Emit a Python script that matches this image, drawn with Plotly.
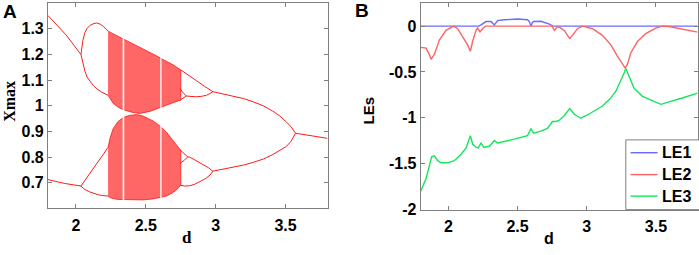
import plotly.graph_objects as go

# ---------------- Panel A: bifurcation diagram ----------------
p1_up_d = [1.80, 1.85, 1.886, 1.93, 1.969, 2.0, 2.036]
p1_up_x = [1.352, 1.322, 1.304, 1.276, 1.248, 1.226, 1.200]
p1_lo_d = [1.80, 1.86, 1.921, 1.98, 2.036]
p1_lo_x = [0.712, 0.704, 0.697, 0.692, 0.687]

p2u_top_d = [2.036, 2.042, 2.050, 2.064, 2.080, 2.100, 2.125, 2.148, 2.175, 2.195, 2.215, 2.23]
p2u_top_x = [1.200, 1.228, 1.255, 1.285, 1.302, 1.313, 1.320, 1.323, 1.318, 1.310, 1.300, 1.291]
p2u_bot_d = [2.036, 2.047, 2.064, 2.080, 2.100, 2.124, 2.150, 2.183, 2.23]
p2u_bot_x = [1.200, 1.170, 1.136, 1.112, 1.096, 1.079, 1.066, 1.054, 1.041]

p2l_top_d = [2.036, 2.06, 2.10, 2.14, 2.171, 2.20, 2.23]
p2l_top_x = [0.687, 0.705, 0.735, 0.765, 0.791, 0.814, 0.838]
p2l_bot_d = [2.036, 2.06, 2.10, 2.13, 2.16, 2.19, 2.23]
p2l_bot_x = [0.687, 0.675, 0.664, 0.658, 0.653, 0.650, 0.648]

cu_d   = [2.23, 2.266, 2.30, 2.338, 2.40, 2.457, 2.529, 2.576, 2.624, 2.695, 2.75]
cu_top = [1.291, 1.281, 1.271, 1.260, 1.243, 1.229, 1.210, 1.195, 1.180, 1.160, 1.140]
cu_bot = [1.041, 1.010, 0.995, 0.985, 0.975, 0.970, 0.978, 0.988, 0.997, 1.012, 1.022]

cl_d   = [2.23, 2.245, 2.266, 2.30, 2.338, 2.38, 2.434, 2.48, 2.552, 2.60, 2.648, 2.69, 2.72, 2.75]
cl_top = [0.838, 0.875, 0.910, 0.938, 0.954, 0.962, 0.966, 0.960, 0.941, 0.922, 0.897, 0.870, 0.847, 0.826]
cl_bot = [0.648, 0.642, 0.638, 0.635, 0.634, 0.633, 0.633, 0.633, 0.637, 0.642, 0.648, 0.660, 0.672, 0.690]

windows_d = [[2.334, 2.346], [2.603, 2.613]]

s4u_top_d = [2.745, 2.765, 2.79]
s4u_top_x = [1.068, 1.052, 1.038]
s4u_bot_d = [2.745, 2.765, 2.79]
s4u_bot_x = [1.022, 1.028, 1.038]
s4l_top_d = [2.745, 2.775, 2.80]
s4l_top_x = [0.828, 0.815, 0.801]
s4l_bot_d = [2.745, 2.775, 2.80]
s4l_bot_x = [0.776, 0.787, 0.801]

r2u_top_d = [2.75, 2.80, 2.862, 2.92, 2.957, 2.98]
r2u_top_x = [1.140, 1.120, 1.098, 1.076, 1.062, 1.055]
r2u_bot_d = [2.79, 2.83, 2.862, 2.90, 2.934, 2.96, 2.98]
r2u_bot_x = [1.038, 1.035, 1.035, 1.037, 1.041, 1.048, 1.055]
r2l_top_d = [2.80, 2.814, 2.86, 2.91, 2.95, 2.98]
r2l_top_x = [0.801, 0.800, 0.786, 0.772, 0.758, 0.745]
r2l_bot_d = [2.745, 2.78, 2.814, 2.85, 2.886, 2.93, 2.96, 2.98]
r2l_bot_x = [0.690, 0.687, 0.688, 0.694, 0.704, 0.717, 0.730, 0.745]

q2u_d = [2.98, 3.05, 3.124, 3.20, 3.266, 3.34, 3.409, 3.46, 3.505, 3.54, 3.571]
q2u_x = [1.055, 1.047, 1.038, 1.028, 1.016, 1.000, 0.979, 0.960, 0.937, 0.918, 0.893]
q2l_d = [2.98, 3.05, 3.124, 3.20, 3.266, 3.34, 3.409, 3.46, 3.505, 3.54, 3.571]
q2l_x = [0.745, 0.752, 0.760, 0.769, 0.779, 0.792, 0.810, 0.825, 0.841, 0.862, 0.893]
q1_d = [3.571, 3.67, 3.8]
q1_x = [0.893, 0.884, 0.873]

# ---------------- Panel B: Lyapunov exponents ----------------
le1_d = [1.80, 2.22, 2.236, 2.255, 2.272, 2.308, 2.332, 2.356, 2.404, 2.50, 2.572, 2.585,
         2.597, 2.607, 2.616, 2.669, 2.716, 2.735, 2.752, 3.80]
le1_v = [0.0, 0.0, 0.013, 0.035, 0.05, 0.05, 0.013, 0.06, 0.07, 0.077, 0.07, 0.05,
         0.0, 0.04, 0.05, 0.053, 0.035, 0.02, 0.0, 0.0]

le2_d = [1.80, 1.839, 1.860, 1.875, 1.899, 1.935, 1.983, 2.038, 2.067, 2.103, 2.139, 2.159,
         2.175, 2.20, 2.211, 2.229, 2.247, 2.27, 2.50, 2.75, 2.765, 2.788, 2.80, 2.84, 2.86,
         2.877, 2.897, 2.933, 2.969, 3.041, 3.113, 3.174, 3.221, 3.257, 3.277, 3.294, 3.318,
         3.366, 3.426, 3.498, 3.546, 3.594, 3.69, 3.80]
le2_v = [-0.232, -0.239, -0.30, -0.362, -0.309, -0.152, -0.046, 0.0, -0.028, -0.116, -0.204, -0.274,
         -0.168, -0.046, -0.021, -0.063, -0.028, 0.0, 0.0, 0.0, -0.046, -0.01, -0.01, -0.05, -0.10,
         -0.134, -0.10, -0.028, 0.0, -0.028, -0.10, -0.204, -0.326, -0.415, -0.457, -0.415, -0.292,
         -0.168, -0.081, -0.021, 0.0, -0.004, -0.036, -0.066]

le3_d = [1.80, 1.839, 1.863, 1.879, 1.899, 1.923, 1.947, 1.995, 2.043, 2.092, 2.128, 2.159,
         2.175, 2.20, 2.216, 2.236, 2.255, 2.296, 2.332, 2.356, 2.476, 2.572, 2.597, 2.616,
         2.669, 2.716, 2.752, 2.777, 2.80, 2.837, 2.877, 2.908, 2.957, 3.017, 3.113, 3.17,
         3.21, 3.246, 3.27, 3.282, 3.306, 3.342, 3.402, 3.535, 3.69, 3.80]
le3_v = [-1.80, -1.66, -1.52, -1.425, -1.415, -1.467, -1.49, -1.49, -1.467, -1.397, -1.327, -1.194,
         -1.285, -1.32, -1.327, -1.274, -1.32, -1.31, -1.246, -1.274, -1.232, -1.194, -1.116, -1.168,
         -1.144, -1.116, -1.04, -1.039, -1.028, -0.976, -0.899, -0.958, -1.004, -0.958, -0.871, -0.79,
         -0.71, -0.60, -0.51, -0.462, -0.555, -0.678, -0.765, -0.853, -0.783, -0.73]

le_names = ["LE1", "LE2", "LE3"]
le_colors = ["#6b6bff", "#ff6262", "#14e55a"]

x_ticks = [2, 2.5, 3, 3.5]
x_ticktext = ["2", "2.5", "3", "3.5"]
ya_ticks = [0.7, 0.8, 0.9, 1.0, 1.1, 1.2, 1.3]
ya_ticktext = ["0.7", "0.8", "0.9", "1", "1.1", "1.2", "1.3"]
yb_ticks = [-2, -1.5, -1, -0.5, 0]
yb_ticktext = ["-2", "-1.5", "-1", "-0.5", "0"]

BIF = "#ff1a1a"
CHAOS = "rgba(255,0,0,0.6)"
SANS = "Liberation Sans, Arial"
SERIF = "Liberation Serif, Times New Roman"
W, H = 699, 255

def bold(lst):
    return ["<b>%s</b>" % t for t in lst]

fig = go.Figure()

def line(d, x):
    fig.add_trace(go.Scatter(x=d, y=x, mode="lines", line=dict(color=BIF, width=1),
                             showlegend=False, hoverinfo="skip", xaxis="x", yaxis="y"))

for d, top, bot in [(cu_d, cu_top, cu_bot), (cl_d, cl_top, cl_bot)]:
    fig.add_trace(go.Scatter(x=d + d[::-1], y=top + bot[::-1], mode="lines", fill="toself",
                             fillcolor=CHAOS, line=dict(color=BIF, width=0.8),
                             showlegend=False, hoverinfo="skip"))

for d, x in [(p1_up_d, p1_up_x), (p1_lo_d, p1_lo_x), (p2u_top_d, p2u_top_x), (p2u_bot_d, p2u_bot_x),
             (p2l_top_d, p2l_top_x), (p2l_bot_d, p2l_bot_x), (s4u_top_d, s4u_top_x),
             (s4u_bot_d, s4u_bot_x), (s4l_top_d, s4l_top_x), (s4l_bot_d, s4l_bot_x),
             (r2u_top_d, r2u_top_x), (r2u_bot_d, r2u_bot_x), (r2l_top_d, r2l_top_x),
             (r2l_bot_d, r2l_bot_x), (q2u_d, q2u_x), (q2l_d, q2l_x), (q1_d, q1_x)]:
    line(d, x)

shapes = []
for w in windows_d:
    shapes.append(dict(type="rect", xref="x", yref="y", x0=w[0], x1=w[1], y0=0.625, y1=1.30,
                       fillcolor="rgba(255,255,255,0.9)", line=dict(width=0), layer="above"))

for d, v, name, col in zip([le1_d, le2_d, le3_d], [le1_v, le2_v, le3_v], le_names, le_colors):
    fig.add_trace(go.Scatter(x=d, y=v, mode="lines", name=name, line=dict(color=col, width=1.4),
                             xaxis="x2", yaxis="y2", hoverinfo="skip", showlegend=False))

def px(x):
    return x / W

def py(y):
    return 1 - y / H

# manual legend (box, sample lines, labels)
shapes.append(dict(type="rect", xref="paper", yref="paper", x0=px(626.7), x1=px(704),
                   y0=py(217.3), y1=py(145), fillcolor="white", line=dict(color="#7f7f7f", width=1)))
annotations = []
leg_y = [158.3, 181.0, 203.3]
for name, col, yy in zip(le_names, le_colors, leg_y):
    shapes.append(dict(type="line", xref="paper", yref="paper", x0=px(631.5), x1=px(658.5),
                       y0=py(yy), y1=py(yy), line=dict(color=col, width=1.4)))
    annotations.append(dict(text="<b>%s</b>" % name, x=px(661.0), y=py(yy), xref="paper", yref="paper",
                            xanchor="left", yanchor="middle", showarrow=False,
                            font=dict(family=SANS, size=16, color="black")))

tickfont = dict(family=SANS, size=16, color="black")
ax_common = dict(showline=True, linecolor="#7f7f7f", linewidth=1, mirror="ticks", ticks="inside",
                 ticklen=4, tickcolor="#7f7f7f", showgrid=False, zeroline=False, tickfont=tickfont)

def ann(text, x, y, family, size, angle=0):
    return dict(text="<b>%s</b>" % text, x=px(x), y=py(y), xref="paper", yref="paper",
                xanchor="center", yanchor="middle", showarrow=False, textangle=angle,
                font=dict(family=family, size=size, color="black"))

annotations += [
    ann("A", 9.7, 11.5, SANS, 19),
    ann("B", 363, 11, SANS, 19),
    ann("Xmax", 9.5, 105, SERIF, 16, -90),
    ann("d", 187, 246, SERIF, 17),
    ann("LEs", 370, 114, SANS, 15, -90),
    ann("d", 550, 247, SANS, 16),
]

fig.update_layout(
    width=W, height=H, margin=dict(l=0, r=0, t=0, b=0),
    paper_bgcolor="white", plot_bgcolor="white", showlegend=False,
    xaxis=dict(domain=[0.0687, 0.4692], range=[1.8, 3.8], tickvals=x_ticks, ticktext=bold(x_ticktext),
               anchor="y", ticklabelstandoff=2, **ax_common),
    yaxis=dict(domain=[0.153, 0.987], range=[0.6, 1.4], tickvals=ya_ticks, ticktext=bold(ya_ticktext),
               anchor="x", **ax_common),
    xaxis2=dict(domain=[0.6027, 0.9993], range=[1.8, 3.8], tickvals=x_ticks, ticktext=bold(x_ticktext),
                anchor="y2", ticklabelstandoff=2, **ax_common),
    yaxis2=dict(domain=[0.148, 0.987], range=[-2, 0.25], tickvals=yb_ticks, ticktext=bold(yb_ticktext),
                anchor="x2", **ax_common),
    shapes=shapes,
    annotations=annotations,
)

fig.write_html("out.html", config={"displayModeBar": False},
               post_script="document.body.style.margin='0px';document.body.style.overflow='hidden';")
